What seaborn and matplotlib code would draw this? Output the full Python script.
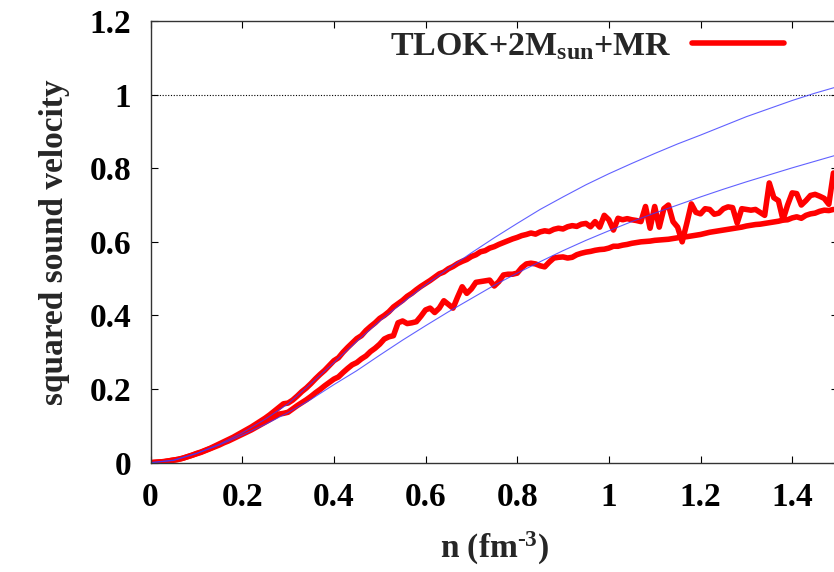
import numpy as np
import pandas as pd
import matplotlib
matplotlib.use("Agg")
import matplotlib.pyplot as plt
import seaborn as sns

# ---------------- data ----------------
n_blue = [0.00, 0.05, 0.10, 0.15, 0.20, 0.25, 0.30, 0.35, 0.40, 0.45, 0.50, 0.55,
          0.60, 0.65, 0.70, 0.75, 0.80, 0.85, 0.90, 0.95, 1.00, 1.05, 1.10, 1.15,
          1.20, 1.25, 1.30, 1.35, 1.40, 1.45, 1.50]
blue_upper = [0.000, 0.006, 0.025, 0.050, 0.081, 0.118, 0.160, 0.215, 0.272, 0.330,
              0.385, 0.435, 0.483, 0.527, 0.570, 0.611, 0.650, 0.688, 0.722, 0.755,
              0.785, 0.813, 0.840, 0.866, 0.890, 0.915, 0.940, 0.962, 0.984, 1.004,
              1.022]
blue_lower = [0.000, 0.007, 0.025, 0.048, 0.075, 0.104, 0.136, 0.172, 0.212, 0.250,
              0.292, 0.333, 0.372, 0.410, 0.446, 0.482, 0.515, 0.546, 0.576, 0.604,
              0.630, 0.655, 0.678, 0.700, 0.722, 0.743, 0.763, 0.782, 0.801, 0.819,
              0.837]

n_red = [round(0.01 * i, 2) for i in range(150)]
red_upper = [
    0.000, 0.001, 0.002, 0.003, 0.005, 0.007, 0.009, 0.012, 0.016, 0.020,
    0.025, 0.029, 0.034, 0.039, 0.045, 0.051, 0.057, 0.063, 0.069, 0.076,
    0.083, 0.090, 0.097, 0.105, 0.113, 0.121, 0.130, 0.140, 0.150, 0.160,
    0.162, 0.170, 0.181, 0.193, 0.203, 0.215, 0.228, 0.240, 0.251, 0.264,
    0.277, 0.285, 0.300, 0.313, 0.325, 0.337, 0.345, 0.359, 0.370, 0.380,
    0.392, 0.400, 0.410, 0.423, 0.432, 0.441, 0.452, 0.460, 0.470, 0.479,
    0.487, 0.495, 0.504, 0.513, 0.518, 0.527, 0.533, 0.541, 0.547, 0.552,
    0.560, 0.565, 0.573, 0.576, 0.583, 0.587, 0.593, 0.598, 0.603, 0.608,
    0.612, 0.617, 0.620, 0.624, 0.621, 0.627, 0.630, 0.628, 0.634, 0.637,
    0.635, 0.641, 0.644, 0.642, 0.648, 0.650, 0.641, 0.655, 0.640, 0.672,
    0.660, 0.632, 0.664, 0.660, 0.663, 0.660, 0.658, 0.655, 0.696, 0.637,
    0.696, 0.640, 0.690, 0.700, 0.655, 0.640, 0.600, 0.650, 0.703, 0.680,
    0.676, 0.690, 0.688, 0.675, 0.678, 0.690, 0.695, 0.693, 0.651, 0.690,
    0.688, 0.686, 0.688, 0.680, 0.672, 0.760, 0.720, 0.712, 0.660, 0.700,
    0.733, 0.731, 0.700, 0.712, 0.726, 0.729, 0.724, 0.718, 0.702, 0.787,
]
red_lower = [
    0.000, 0.001, 0.002, 0.003, 0.005, 0.007, 0.009, 0.012, 0.016, 0.020,
    0.024, 0.028, 0.033, 0.038, 0.043, 0.048, 0.054, 0.059, 0.065, 0.071,
    0.077, 0.083, 0.089, 0.096, 0.103, 0.110, 0.117, 0.124, 0.132, 0.134,
    0.137, 0.146, 0.155, 0.163, 0.171, 0.180, 0.190, 0.199, 0.209, 0.218,
    0.227, 0.233, 0.245, 0.256, 0.266, 0.272, 0.282, 0.290, 0.302, 0.311,
    0.322, 0.336, 0.342, 0.345, 0.380, 0.385, 0.378, 0.380, 0.383, 0.398,
    0.415, 0.420, 0.408, 0.420, 0.440, 0.430, 0.420, 0.450, 0.478, 0.460,
    0.472, 0.490, 0.492, 0.494, 0.496, 0.480, 0.492, 0.510, 0.512, 0.512,
    0.515, 0.530, 0.540, 0.542, 0.540, 0.535, 0.532, 0.545, 0.556, 0.558,
    0.559, 0.556, 0.558, 0.565, 0.569, 0.572, 0.574, 0.577, 0.579, 0.580,
    0.583, 0.588, 0.588, 0.591, 0.593, 0.596, 0.598, 0.600, 0.601, 0.602,
    0.604, 0.605, 0.606, 0.607, 0.609, 0.611, 0.613, 0.614, 0.616, 0.618,
    0.620, 0.623, 0.626, 0.628, 0.630, 0.632, 0.634, 0.636, 0.638, 0.640,
    0.643, 0.645, 0.647, 0.648, 0.650, 0.652, 0.654, 0.656, 0.659, 0.660,
    0.665, 0.668, 0.664, 0.672, 0.676, 0.678, 0.683, 0.686, 0.685, 0.688,
]

x_ticks = [0, 0.2, 0.4, 0.6, 0.8, 1.0, 1.2, 1.4]
x_tick_labels = ["0", "0.2", "0.4", "0.6", "0.8", "1", "1.2", "1.4"]
y_ticks = [0, 0.2, 0.4, 0.6, 0.8, 1.0, 1.2]
y_tick_labels = ["0", "0.2", "0.4", "0.6", "0.8", "1", "1.2"]
legend_label = r"TLOK+2M$_{\rm sun}$+MR"

# ---------------- style ----------------
sns.set_style("ticks")
plt.rcParams["font.family"] = ["Liberation Serif", "DejaVu Serif"]
plt.rcParams["font.weight"] = "bold"
plt.rcParams["mathtext.fontset"] = "custom"
plt.rcParams["mathtext.rm"] = "Liberation Serif:bold"
plt.rcParams["mathtext.it"] = "Liberation Serif:bold"
plt.rcParams["mathtext.bf"] = "Liberation Serif:bold"

DPI = 100
fig = plt.figure(figsize=(8.34, 5.72), dpi=DPI)
ax = fig.add_axes([0.1805, 0.1911, 0.8243, 0.7722])

red_df = pd.DataFrame({"n": n_red + n_red,
                       "cs2": red_upper + red_lower,
                       "set": ["a"] * len(n_red) + ["b"] * len(n_red)})
blue_df = pd.DataFrame({"n": n_blue + n_blue,
                        "cs2": blue_upper + blue_lower,
                        "set": ["a"] * len(n_blue) + ["b"] * len(n_blue)})

sns.lineplot(data=red_df[red_df["set"] == "a"], x="n", y="cs2", color="#ff0000",
             lw=4.0, estimator=None, sort=False, ax=ax, label=legend_label)
sns.lineplot(data=red_df[red_df["set"] == "b"], x="n", y="cs2", color="#ff0000",
             lw=4.0, estimator=None, sort=False, ax=ax, label="_nolegend_")
for s in ["a", "b"]:
    sns.lineplot(data=blue_df[blue_df["set"] == s], x="n", y="cs2", color="#3a3aff",
                 lw=0.8, alpha=0.8, estimator=None, sort=False, ax=ax,
                 label="_nolegend_")

ax.axhline(1.0, color="black", lw=0.8, ls=(0, (1, 1.5)), zorder=1)

ax.set_xlim(0, 1.5)
ax.set_ylim(0, 1.2)
ax.set_xticks(x_ticks)
ax.set_xticklabels(x_tick_labels)
ax.set_yticks(y_ticks)
ax.set_yticklabels(y_tick_labels)
ax.tick_params(direction="in", length=5, width=0.8, top=True, right=True,
               labelsize=24, pad=14, colors="black")
for lab in ax.get_xticklabels() + ax.get_yticklabels():
    lab.set_fontweight("bold")
for sp in ax.spines.values():
    sp.set_linewidth(1.0)
    sp.set_color("#333333")

ax.set_xlabel(r"n (fm$^{\text{-3}}$)", fontsize=24, fontweight="bold", labelpad=12)
ax.set_ylabel("squared sound velocity", fontsize=24, fontweight="bold", labelpad=14)

leg = ax.legend(loc="center right", bbox_to_anchor=(784 / 834, 1 - 46.7 / 572),
                bbox_transform=fig.transFigure, frameon=False, markerfirst=False,
                fontsize=24.5, handlelength=2.7, handletextpad=0.6,
                borderpad=0, borderaxespad=0)
for t in leg.get_texts():
    t.set_fontweight("bold")

fig.savefig("out.png", dpi=DPI)
